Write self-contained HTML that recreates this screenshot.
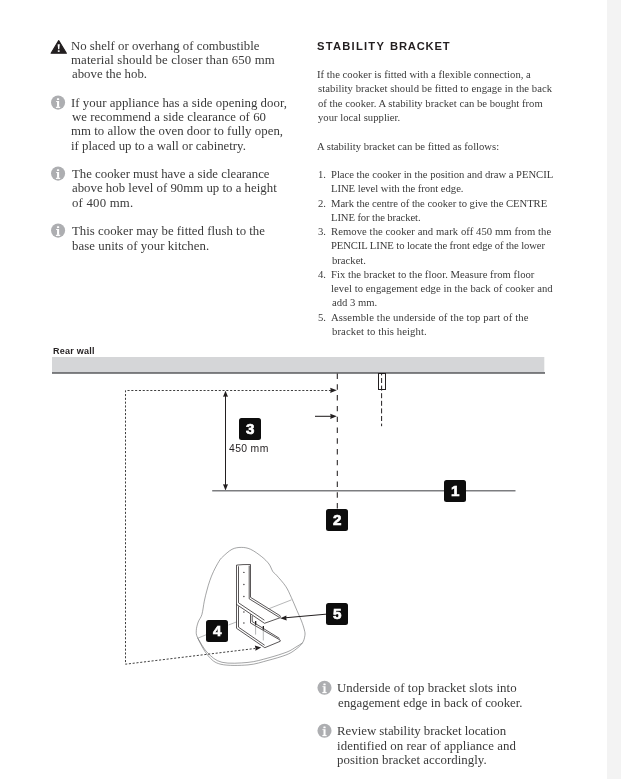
<!DOCTYPE html>
<html><head><meta charset="utf-8">
<style>
html,body{margin:0;padding:0;background:#fff;}
body{width:621px;height:779px;position:relative;overflow:hidden;}
.strip{position:absolute;left:607px;top:0;width:14px;height:779px;background:#f3f3f3;}
.t{position:absolute;white-space:pre;will-change:transform;font-family:"Liberation Serif",serif;color:#3a3a3a;line-height:14px;}
.L{font-size:12.8px;left:72px;}
.R{font-size:10.65px;left:318px;}
.Ri{font-size:10.65px;left:332px;}
.N{font-size:10.65px;left:317px;}
.B{font-size:12.85px;left:338px;}
.h{position:absolute;will-change:transform;left:317px;top:39px;font-family:"Liberation Sans",sans-serif;font-weight:bold;font-size:11.2px;letter-spacing:1.1px;color:#231f20;white-space:pre;line-height:14px;}
.lab{position:absolute;will-change:transform;font-family:"Liberation Sans",sans-serif;white-space:pre;color:#231f20;line-height:12px;}
.box{position:absolute;will-change:transform;width:22.4px;height:22.4px;background:#0d0d0d;border-radius:2.5px;color:#fff;font-family:"Liberation Sans",sans-serif;font-weight:bold;font-size:15.2px;line-height:22.4px;text-align:center;-webkit-text-stroke:0.65px #fff;}
</style></head><body>
<div class="strip"></div>

<!-- left column icons -->
<svg style="position:absolute;left:0;top:0" width="621" height="779" viewBox="0 0 621 779">
  <g>
    <path d="M58.7 40.6 L66.4 53.2 L51.1 53.2 Z" fill="#231f20" stroke="#231f20" stroke-width="1.1" stroke-linejoin="round"/>
    <path d="M57.6 44.3 L59.8 44.3 L59.3 49.3 L58.1 49.3 Z" fill="#fff"/>
    <rect x="57.8" y="50.3" width="1.8" height="1.6" fill="#fff"/>
  </g>
  <g>
    <circle cx="58.06" cy="102.6" r="7.05" fill="#adaeb1"/>
    <rect x="56.91" y="98.20" width="2.3" height="1.8" rx="0.5" fill="#fff"/>
    <rect x="57.06" y="101.00" width="2.05" height="5.9" fill="#fff"/>
    <rect x="56.06" y="101.00" width="1.2" height="0.9" fill="#fff"/>
    <rect x="55.91" y="106.75" width="4.3" height="1.2" fill="#fff"/>
  </g>
  <g>
    <circle cx="58.06" cy="173.6" r="7.05" fill="#adaeb1"/>
    <rect x="56.91" y="169.20" width="2.3" height="1.8" rx="0.5" fill="#fff"/>
    <rect x="57.06" y="172.00" width="2.05" height="5.9" fill="#fff"/>
    <rect x="56.06" y="172.00" width="1.2" height="0.9" fill="#fff"/>
    <rect x="55.91" y="177.75" width="4.3" height="1.2" fill="#fff"/>
  </g>
  <g>
    <circle cx="58.06" cy="230.6" r="7.05" fill="#adaeb1"/>
    <rect x="56.91" y="226.20" width="2.3" height="1.8" rx="0.5" fill="#fff"/>
    <rect x="57.06" y="229.00" width="2.05" height="5.9" fill="#fff"/>
    <rect x="56.06" y="229.00" width="1.2" height="0.9" fill="#fff"/>
    <rect x="55.91" y="234.75" width="4.3" height="1.2" fill="#fff"/>
  </g>
  <g>
    <circle cx="324.5" cy="687.8" r="7.05" fill="#adaeb1"/>
    <rect x="323.35" y="683.40" width="2.3" height="1.8" rx="0.5" fill="#fff"/>
    <rect x="323.50" y="686.20" width="2.05" height="5.9" fill="#fff"/>
    <rect x="322.50" y="686.20" width="1.2" height="0.9" fill="#fff"/>
    <rect x="322.35" y="691.95" width="4.3" height="1.2" fill="#fff"/>
  </g>
  <g>
    <circle cx="324.5" cy="730.8" r="7.05" fill="#adaeb1"/>
    <rect x="323.35" y="726.40" width="2.3" height="1.8" rx="0.5" fill="#fff"/>
    <rect x="323.50" y="729.20" width="2.05" height="5.9" fill="#fff"/>
    <rect x="322.50" y="729.20" width="1.2" height="0.9" fill="#fff"/>
    <rect x="322.35" y="734.95" width="4.3" height="1.2" fill="#fff"/>
  </g>
</svg>

<div class="t" style="top:39px;left:71.30px;font-size:12.8px;letter-spacing:0.011px">No shelf or overhang of combustible</div>
<div class="t" style="top:53px;left:71.30px;font-size:12.8px;letter-spacing:0.130px">material should be closer than 650 mm</div>
<div class="t" style="top:67px;left:72.00px;font-size:12.8px;letter-spacing:0.000px">above the hob.</div>
<div class="t" style="top:96px;left:71.30px;font-size:12.8px;letter-spacing:0.044px">If your appliance has a side opening door,</div>
<div class="t" style="top:110px;left:72.00px;font-size:12.8px;letter-spacing:0.042px">we recommend a side clearance of 60</div>
<div class="t" style="top:124px;left:71.30px;font-size:12.8px;letter-spacing:0.051px">mm to allow the oven door to fully open,</div>
<div class="t" style="top:139px;left:71.30px;font-size:12.8px;letter-spacing:0.005px">if placed up to a wall or cabinetry.</div>
<div class="t" style="top:167px;left:72.00px;font-size:12.8px;letter-spacing:0.000px">The cooker must have a side clearance</div>
<div class="t" style="top:181px;left:72.00px;font-size:12.8px;letter-spacing:0.019px">above hob level of 90mm up to a height</div>
<div class="t" style="top:196px;left:72.00px;font-size:12.8px;letter-spacing:0.200px">of 400 mm.</div>
<div class="t" style="top:224px;left:72.00px;font-size:12.8px;letter-spacing:0.019px">This cooker may be fitted flush to the</div>
<div class="t" style="top:239px;left:72.00px;font-size:12.8px;letter-spacing:0.069px">base units of your kitchen.</div>
<div class="t" style="top:68px;left:317.30px;font-size:10.65px;letter-spacing:0.021px">If the cooker is fitted with a flexible connection, a</div>
<div class="t" style="top:82px;left:318.00px;font-size:10.65px;letter-spacing:0.072px">stability bracket should be fitted to engage in the back</div>
<div class="t" style="top:97px;left:318.00px;font-size:10.65px;letter-spacing:0.014px">of the cooker. A stability bracket can be bought from</div>
<div class="t" style="top:111px;left:318.00px;font-size:10.65px;letter-spacing:0.019px">your local supplier.</div>
<div class="t" style="top:140px;left:317.30px;font-size:10.65px;letter-spacing:-0.004px">A stability bracket can be fitted as follows:</div>
<div class="t" style="top:168px;left:331.30px;font-size:10.65px;letter-spacing:-0.018px">Place the cooker in the position and draw a PENCIL</div>
<div class="t" style="top:182px;left:331.30px;font-size:10.65px;letter-spacing:-0.036px">LINE level with the front edge.</div>
<div class="t" style="top:197px;left:331.30px;font-size:10.65px;letter-spacing:-0.034px">Mark the centre of the cooker to give the CENTRE</div>
<div class="t" style="top:211px;left:331.30px;font-size:10.65px;letter-spacing:-0.099px">LINE for the bracket.</div>
<div class="t" style="top:225px;left:331.30px;font-size:10.65px;letter-spacing:0.072px">Remove the cooker and mark off 450 mm from the</div>
<div class="t" style="top:239px;left:331.30px;font-size:10.65px;letter-spacing:-0.094px">PENCIL LINE to locate the front edge of the lower</div>
<div class="t" style="top:254px;left:332.00px;font-size:10.65px;letter-spacing:0.000px">bracket.</div>
<div class="t" style="top:268px;left:331.30px;font-size:10.65px;letter-spacing:0.034px">Fix the bracket to the floor. Measure from floor</div>
<div class="t" style="top:282px;left:331.30px;font-size:10.65px;letter-spacing:0.055px">level to engagement edge in the back of cooker and</div>
<div class="t" style="top:296px;left:332.00px;font-size:10.65px;letter-spacing:0.000px">add 3 mm.</div>
<div class="t" style="top:311px;left:331.30px;font-size:10.65px;letter-spacing:0.135px">Assemble the underside of the top part of the</div>
<div class="t" style="top:325px;left:332.00px;font-size:10.65px;letter-spacing:0.115px">bracket to this height.</div>
<div class="t" style="top:168px;left:317.50px;font-size:10.65px;letter-spacing:0.000px">1.</div>
<div class="t" style="top:197px;left:317.50px;font-size:10.65px;letter-spacing:0.000px">2.</div>
<div class="t" style="top:225px;left:317.50px;font-size:10.65px;letter-spacing:0.000px">3.</div>
<div class="t" style="top:268px;left:317.50px;font-size:10.65px;letter-spacing:0.000px">4.</div>
<div class="t" style="top:311px;left:317.50px;font-size:10.65px;letter-spacing:0.000px">5.</div>
<div class="t" style="top:681px;left:337.30px;font-size:12.85px;letter-spacing:0.069px">Underside of top bracket slots into</div>
<div class="t" style="top:696px;left:338.00px;font-size:12.85px;letter-spacing:-0.005px">engagement edge in back of cooker.</div>
<div class="t" style="top:724px;left:337.30px;font-size:12.85px;letter-spacing:-0.011px">Review stability bracket location</div>
<div class="t" style="top:739px;left:337.30px;font-size:12.85px;letter-spacing:0.069px">identified on rear of appliance and</div>
<div class="t" style="top:753px;left:337.30px;font-size:12.85px;letter-spacing:0.039px">position bracket accordingly.</div>
<div class="h" style="left:316.9px;letter-spacing:1.24px">STABILITY</div><div class="h" style="left:389.9px;letter-spacing:0.8px">BRACKET</div>
<!-- diagram -->
<div class="lab" style="left:52.6px;top:345px;font-size:9px;font-weight:bold;letter-spacing:0.25px">Rear wall</div>
<div class="lab" style="left:229px;top:442.7px;font-size:10.4px;letter-spacing:0.35px">450 mm</div>
<svg style="position:absolute;left:0;top:0" width="621" height="779" viewBox="0 0 621 779">
  <rect x="52" y="357" width="492.3" height="15" fill="#d5d6d8"/>
  <rect x="52" y="372" width="493" height="1.9" fill="#77787b"/>
  <!-- vertical dashed centre line -->
  <line x1="337.3" y1="373.5" x2="337.3" y2="508.5" stroke="#231f20" stroke-width="1.05" stroke-dasharray="5.4 5.4"/>
  <!-- small rect + dashed -->
  <rect x="378.5" y="373.5" width="7" height="16" fill="none" stroke="#231f20" stroke-width="1"/>
  <line x1="381.6" y1="373.6" x2="381.6" y2="426.2" stroke="#231f20" stroke-width="1" stroke-dasharray="5 2.6" stroke-dashoffset="3.2"/>
  <!-- dotted path left -->
  <path d="M331 390.5 L125.5 390.5 L125.5 664.2 L255 648.5" fill="none" stroke="#2a2a2a" stroke-width="0.9" stroke-dasharray="2.1 1.7"/>
  <path d="M336.8 390.3 L330.2 387.7 L330.7 390.3 L330.2 392.9 Z" fill="#231f20"/>
  <!-- solid arrow -->
  <line x1="315" y1="416.3" x2="331" y2="416.3" stroke="#231f20" stroke-width="1.05"/>
  <path d="M336.8 416.3 L330.2 413.7 L330.7 416.3 L330.2 418.9 Z" fill="#231f20"/>
  <!-- vertical double arrow -->
  <line x1="225.5" y1="395" x2="225.5" y2="487" stroke="#231f20" stroke-width="1.05"/>
  <path d="M225.5 390.8 L223 396.8 L225.5 396.4 L228 396.8 Z" fill="#231f20"/>
  <path d="M225.5 490.6 L223 484.2 L225.5 484.6 L228 484.2 Z" fill="#231f20"/>
  <!-- floor line -->
  <line x1="212.2" y1="490.8" x2="515.5" y2="490.8" stroke="#7c7d80" stroke-width="1.4"/>
  <!-- blob -->
  <path d="M197.80 638.20 C195.85 634.02 196.23 633.20 196.30 630.50 C196.37 627.80 197.27 624.67 198.20 622.00 C199.13 619.33 200.88 617.98 201.90 614.50 C202.92 611.02 203.45 605.18 204.30 601.10 C205.15 597.02 206.08 593.40 207.00 590.00 C207.92 586.60 208.72 583.78 209.80 580.70 C210.88 577.62 211.97 574.73 213.50 571.50 C215.03 568.27 217.45 563.77 219.00 561.30 C220.55 558.83 220.63 558.70 222.80 556.70 C224.97 554.70 228.92 550.85 232.00 549.30 C235.08 547.75 238.20 547.40 241.30 547.40 C244.40 547.40 247.20 547.75 250.60 549.30 C254.00 550.85 258.63 554.25 261.70 556.70 C264.77 559.15 267.15 561.53 269.00 564.00 C270.85 566.47 271.55 569.63 272.80 571.50 C274.05 573.37 274.35 572.73 276.50 575.20 C278.65 577.67 283.23 582.60 285.70 586.30 C288.17 590.00 289.43 593.38 291.30 597.40 C293.17 601.42 295.20 606.47 296.90 610.40 C298.60 614.33 300.25 617.73 301.50 621.00 C302.75 624.27 303.83 627.58 304.40 630.00 C304.97 632.42 305.23 633.33 304.90 635.50 C304.57 637.67 304.07 640.58 302.40 643.00 C300.73 645.42 297.65 648.00 294.90 650.00 C292.15 652.00 290.38 653.27 285.90 655.00 C281.42 656.73 274.32 658.75 268.00 660.40 C261.68 662.05 255.83 664.25 248.00 664.90 C240.17 665.55 227.67 665.85 221.00 664.30 C214.33 662.75 211.87 659.95 208.00 655.60 C204.13 651.25 199.75 642.38 197.80 638.20 Z" fill="none" stroke="#58595b" stroke-width="0.55"/>
  <path d="M197.80 638.20 C199.42 640.62 203.47 648.68 207.50 652.70 C211.53 656.72 215.25 660.68 222.00 662.30 C228.75 663.92 240.33 663.12 248.00 662.40 C255.67 661.68 261.50 659.73 268.00 658.00 C274.50 656.27 282.33 653.83 287.00 652.00 C291.67 650.17 293.43 648.50 296.00 647.00 C298.57 645.50 301.33 643.67 302.40 643.00" fill="none" stroke="#58595b" stroke-width="0.55"/>
  <line x1="197.8" y1="638.2" x2="206" y2="634.8" stroke="#6d6e71" stroke-width="0.5"/>
  <line x1="228.5" y1="625" x2="236.3" y2="622" stroke="#6d6e71" stroke-width="0.5"/>
  <line x1="269.2" y1="608.6" x2="291.4" y2="599.9" stroke="#6d6e71" stroke-width="0.5"/>
  <!-- bracket -->
  <g fill="none" stroke="#231f20" stroke-width="0.75" stroke-linejoin="round">
    <path d="M236.5 628.3 L236.5 565.1 L243 564.6 L250.5 564.5 L250.5 597.3 L280.2 615.8 L280.2 617.7 L264.5 623.3 L236.5 604.4"/>
    <path d="M238.5 566.3 L238.5 602.8 L264.4 620.2 M249.2 565.6 L249.2 598.8 L279.2 617.3"/>
    <path d="M236.5 628.3 L264.8 647.7 L280.2 641.3 L280.2 640.1 L250.5 623 L250.5 614.3 M238.5 606.3 L238.5 627.2 L264.6 645.2 M252.2 615.8 L252.2 621.6 L279.5 638.4"/>
  </g>
  <g fill="#231f20">
    <circle cx="243.9" cy="572.4" r="0.65"/><circle cx="243.9" cy="584.5" r="0.65"/><circle cx="243.9" cy="596.5" r="0.65"/><circle cx="243.9" cy="612" r="0.65"/><circle cx="243.9" cy="623" r="0.65"/>
    <rect x="255" y="621" width="1.3" height="4"/><rect x="262.7" y="626" width="1.3" height="3.8"/>
  </g>
  <line x1="255.6" y1="624" x2="255.6" y2="634.6" stroke="#6d6e71" stroke-width="0.5"/>
  <line x1="263.3" y1="629" x2="263.3" y2="640.4" stroke="#6d6e71" stroke-width="0.5"/>
  <!-- arrow 5 -->
  <line x1="326" y1="614.2" x2="285" y2="617.8" stroke="#231f20" stroke-width="1"/>
  <path d="M280.2 618.2 L286.4 615.6 L286.3 618 L286.7 620.4 Z" fill="#231f20"/>
  <!-- dotted arrow head into lower bracket -->
  <path d="M261.2 647.6 L254.8 645.6 L255.5 648.3 L255.4 650.8 Z" fill="#231f20"/>
</svg>
<div class="box" style="left:238.7px;top:418px">3</div>
<div class="box" style="left:443.7px;top:479.8px">1</div>
<div class="box" style="left:325.9px;top:508.5px">2</div>
<div class="box" style="left:325.6px;top:603px">5</div>
<div class="box" style="left:206.2px;top:620px">4</div>
</body></html>
